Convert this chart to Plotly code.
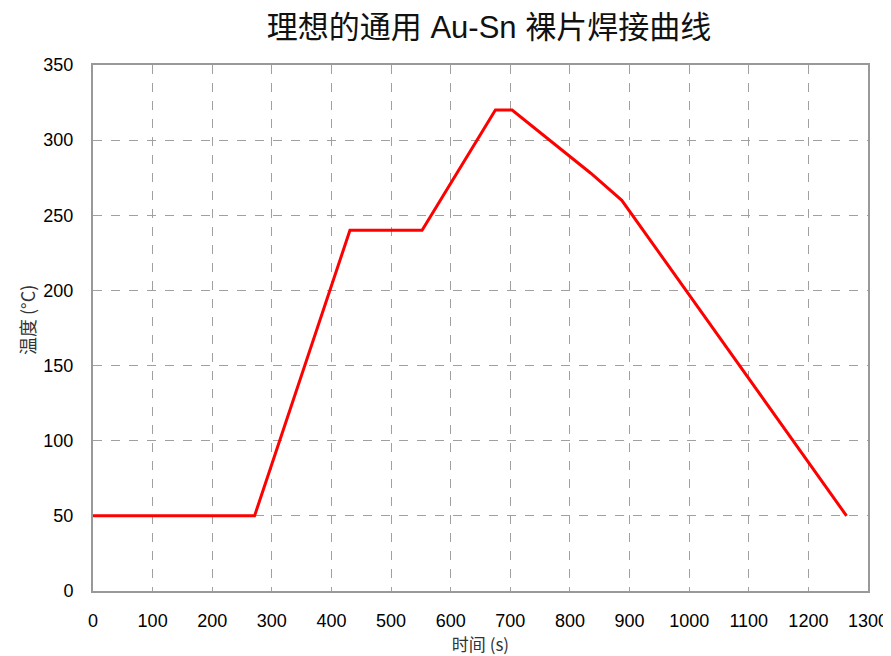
import plotly.graph_objects as go

time_s = [0, 271, 431, 552, 675, 703, 835, 887, 1264]
temp_c = [50, 50, 240, 240, 320, 320, 278, 260, 50]

x_ticks = list(range(0, 1301, 100))
y_ticks = list(range(0, 351, 50))

fig = go.Figure()
fig.add_trace(go.Scatter(
    x=time_s, y=temp_c, mode="lines",
    line=dict(color="#ff0000", width=3),
    showlegend=False, hoverinfo="skip",
))

CJK = "Noto Sans CJK SC, Liberation Sans, sans-serif"

# page body has an 8px margin; compensate in figure size/margins
fig.update_layout(
    width=883, height=648,
    margin=dict(l=85, r=23, t=57, b=65, autoexpand=False),
    paper_bgcolor="white", plot_bgcolor="white",
    font=dict(family="Liberation Sans, Arial, Noto Sans CJK SC, sans-serif", color="#000"),
    title=dict(
        text="理想的通用 Au-Sn 裸片焊接曲线",
        x=(489 - 8) / 883, xanchor="center", y=1 - (27 - 8) / 648, yanchor="middle",
        font=dict(size=31, family="Liberation Sans, Noto Sans CJK SC, sans-serif", color="#111"),
    ),
    xaxis=dict(
        range=[0, 1300], tickvals=x_ticks, ticktext=[str(v) for v in x_ticks],
        showgrid=True, gridcolor="#a0a0a0", griddash="dash", gridwidth=1,
        showline=True, linecolor="#999", linewidth=2, mirror=True,
        zeroline=False, ticks="", tickfont=dict(size=18, color="#000"),
        ticklabelstandoff=12, automargin=False,
        title=dict(text="时间 (s)", font=dict(size=17, color="#333", family=CJK), standoff=10),
    ),
    yaxis=dict(
        range=[0, 350], tickvals=y_ticks, ticktext=[str(v) for v in y_ticks],
        showgrid=True, gridcolor="#a0a0a0", griddash="dash", gridwidth=1,
        showline=True, linecolor="#999", linewidth=2, mirror=True,
        zeroline=False, ticks="", tickfont=dict(size=18, color="#000"),
        ticklabelstandoff=14, automargin=False,
    ),
    annotations=[dict(
        text="温度 (°C)", textangle=-90, showarrow=False,
        xref="paper", yref="paper", x=(27 - 93) / 775, y=(591 - 320) / 526,
        xanchor="center", yanchor="middle",
        font=dict(size=18, color="#333", family=CJK),
    )],
)

fig.write_html("out.html")
